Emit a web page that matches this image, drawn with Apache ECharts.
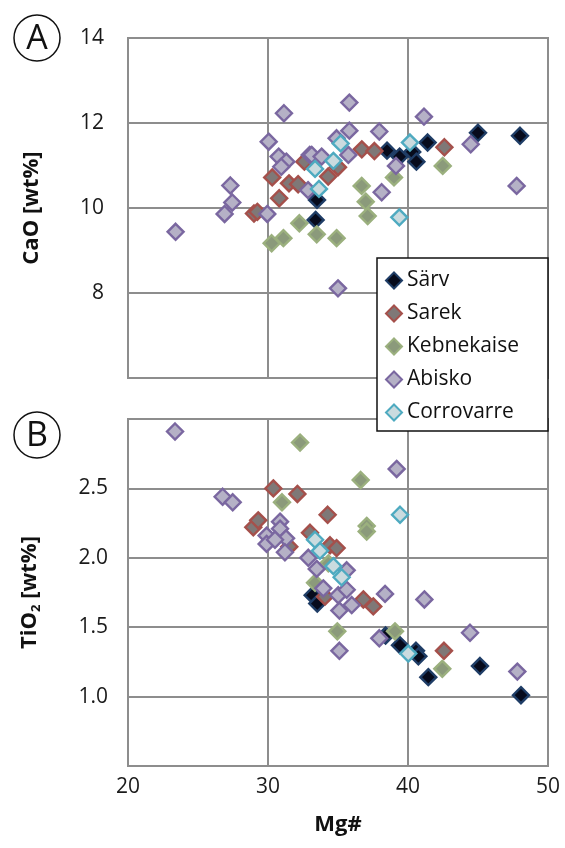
<!DOCTYPE html>
<html>
<head>
<meta charset="utf-8">
<script src="https://cdn.jsdelivr.net/npm/echarts@6/dist/echarts.min.js"></script>
<style>
  html, body { margin: 0; padding: 0; background: #fff; }
  #chart { width: 565px; height: 848px; }
</style>
</head>
<body>
<div id="chart"></div>
<script>
// Mg# versus CaO (panel A) and TiO2 (panel B), one array of [Mg#, wt%] pairs per locality
const groups = ['Särv', 'Sarek', 'Kebnekaise', 'Abisko', 'Corrovarre'];

const sarvCaO = [[33.4, 9.72], [33.5, 10.19], [38.5, 11.35], [39.4, 11.21], [40.3, 11.32],
  [40.6, 11.09], [41.4, 11.54], [45.0, 11.77], [48.0, 11.70]];
const sarekCaO = [[29.0, 9.87], [29.24, 9.91], [30.3, 10.72], [30.8, 10.23], [31.5, 10.58],
  [32.15, 10.56], [32.6, 11.09], [34.3, 10.74], [35.0, 10.96], [36.7, 11.38], [37.6, 11.34], [42.6, 11.43]];
const kebnekaiseCaO = [[30.26, 9.17], [31.1, 9.29], [32.24, 9.64], [33.48, 9.38], [34.9, 9.29],
  [36.69, 10.52], [36.98, 10.15], [37.12, 9.81], [39.0, 10.72], [42.48, 10.99]];
const abiskoCaO = [[31.14, 12.23], [30.05, 11.56], [30.76, 11.21], [31.31, 11.09], [30.95, 10.97],
  [32.98, 11.25], [32.86, 10.42], [27.31, 10.53], [27.45, 10.13], [26.9, 9.86], [29.95, 9.86],
  [23.4, 9.44], [35.0, 8.11], [38.12, 10.37], [35.81, 12.48], [41.14, 12.15], [47.76, 10.52],
  [44.48, 11.5], [39.14, 10.99], [37.95, 11.8], [35.81, 11.82], [34.9, 11.64], [35.74, 11.25],
  [33.12, 11.25], [33.83, 11.21]];
const corrovarreCaO = [[40.14, 11.54], [35.19, 11.52], [34.67, 11.11], [33.36, 10.92], [33.64, 10.45], [39.38, 9.78]];

const sarvTiO2 = [[33.19, 1.73], [33.52, 1.67], [38.4, 1.44], [39.43, 1.37], [40.57, 1.33],
  [40.74, 1.29], [41.45, 1.14], [45.14, 1.22], [48.07, 1.01]];
const sarekTiO2 = [[30.38, 2.50], [32.1, 2.46], [28.95, 2.22], [29.3, 2.27], [34.26, 2.31],
  [31.52, 2.08], [33.0, 2.18], [34.43, 2.09], [34.9, 2.07], [34.07, 1.72], [36.81, 1.70],
  [37.52, 1.65], [42.57, 1.33]];
const kebnekaiseTiO2 = [[32.29, 2.83], [36.62, 2.56], [37.05, 2.23], [37.05, 2.19], [31.0, 2.40],
  [34.31, 1.96], [33.36, 1.82], [34.95, 1.47], [39.07, 1.47], [42.45, 1.20]];
const abiskoTiO2 = [[23.36, 2.91], [26.76, 2.44], [27.48, 2.40], [29.9, 2.16], [29.9, 2.10],
  [30.86, 2.26], [30.86, 2.21], [31.29, 2.14], [31.21, 2.04], [30.5, 2.13], [32.88, 2.00],
  [33.48, 1.92], [35.62, 1.91], [33.95, 1.78], [35.02, 1.73], [35.62, 1.77], [35.98, 1.66],
  [35.1, 1.62], [35.1, 1.33], [38.36, 1.74], [41.17, 1.70], [37.95, 1.42], [39.19, 2.64],
  [44.43, 1.46], [47.81, 1.18]];
const corrovarreTiO2 = [[39.43, 2.31], [33.36, 2.13], [33.71, 2.05], [34.67, 1.94], [35.26, 1.86], [40.02, 1.31]];

const caoSets = [sarvCaO, sarekCaO, kebnekaiseCaO, abiskoCaO, corrovarreCaO];
const tio2Sets = [sarvTiO2, sarekTiO2, kebnekaiseTiO2, abiskoTiO2, corrovarreTiO2];

const mgTicks = { min: 20, max: 50, interval: 10 };
const caoTicks = { min: 6, max: 14, interval: 2 };
const tio2Ticks = { min: 0.5, max: 3.0, interval: 0.5 };

// marker fill / outline for each locality
const markerStyles = [
  { color: '#070b1c', borderColor: '#1f3d66' },
  { color: '#7f7877', borderColor: '#a5504b' },
  { color: '#8b9a7b', borderColor: '#9bb07e' },
  { color: '#b5b1c6', borderColor: '#7a67a0' },
  { color: '#cadbdf', borderColor: '#4eaac0' }
];

const FONT = '"Open Sans", "DejaVu Sans", sans-serif';
const GRID_COLOR = '#8d8d8d';

const chart = echarts.init(document.getElementById('chart'), null, { renderer: 'canvas' });

function xAxisFor(gridIndex, showLabels) {
  return {
    type: 'value', gridIndex, min: mgTicks.min, max: mgTicks.max, interval: mgTicks.interval,
    axisLine: { show: false }, axisTick: { show: false },
    splitLine: { show: true, lineStyle: { color: GRID_COLOR, width: 2 } },
    axisLabel: { show: showLabels, fontFamily: FONT, fontSize: 21, color: '#1a1a1a', margin: 11 },
    name: showLabels ? 'Mg#' : '', nameLocation: 'middle', nameGap: 48,
    nameTextStyle: { fontFamily: FONT, fontSize: 22, fontWeight: 'bold', color: '#111' }
  };
}

const series = [];
groups.forEach((g, i) => {
  const base = {
    name: g, type: 'scatter', symbol: 'diamond', symbolSize: 16,
    itemStyle: { color: markerStyles[i].color, borderColor: markerStyles[i].borderColor, borderWidth: 2.4, opacity: 1 },
    emphasis: { disabled: true }, z: 2 + i
  };
  series.push(Object.assign({}, base, { xAxisIndex: 0, yAxisIndex: 0, data: caoSets[i] }));
  series.push(Object.assign({}, base, { xAxisIndex: 1, yAxisIndex: 1, data: tio2Sets[i] }));
});

const option = {
  animation: false,
  backgroundColor: '#fff',
  grid: [
    { left: 128, right: 17, top: 38, height: 340, show: true, borderColor: GRID_COLOR, borderWidth: 2, backgroundColor: 'transparent' },
    { left: 128, right: 17, top: 419, height: 347, show: true, borderColor: GRID_COLOR, borderWidth: 2, backgroundColor: 'transparent' }
  ],
  xAxis: [xAxisFor(0, false), xAxisFor(1, true)],
  yAxis: [
    {
      type: 'value', gridIndex: 0, min: caoTicks.min, max: caoTicks.max, interval: caoTicks.interval,
      axisLine: { show: false }, axisTick: { show: false },
      splitLine: { show: true, lineStyle: { color: GRID_COLOR, width: 2 } },
      axisLabel: { showMinLabel: false, fontFamily: FONT, fontSize: 21, color: '#1a1a1a', margin: 24 },
      name: 'CaO [wt%]', nameLocation: 'middle', nameGap: 85, nameRotate: 90,
      nameTextStyle: { fontFamily: FONT, fontSize: 22, fontWeight: 'bold', color: '#111' }
    },
    {
      type: 'value', gridIndex: 1, min: tio2Ticks.min, max: tio2Ticks.max, interval: tio2Ticks.interval,
      axisLine: { show: false }, axisTick: { show: false },
      splitLine: { show: true, lineStyle: { color: GRID_COLOR, width: 2 } },
      axisLabel: {
        showMinLabel: false, showMaxLabel: false, fontFamily: FONT, fontSize: 21, color: '#1a1a1a', margin: 20,
        formatter: v => v.toFixed(1)
      },
      name: '{a|TiO}{s|2}{a| [wt%]}', nameLocation: 'middle', nameGap: 85, nameRotate: 90,
      nameTextStyle: {
        fontFamily: FONT, fontSize: 22, fontWeight: 'bold', color: '#111',
        rich: {
          a: { fontFamily: FONT, fontSize: 22, fontWeight: 'bold', color: '#111', lineHeight: 27, verticalAlign: 'middle' },
          s: { fontFamily: FONT, fontSize: 13, fontWeight: 'bold', color: '#111', lineHeight: 13, verticalAlign: 'bottom' }
        }
      }
    }
  ],
  legend: {
    data: groups.map(g => ({ name: g, icon: 'diamond' })),
    orient: 'vertical', left: 377, top: 258,
    itemWidth: 16, itemHeight: 16, itemGap: 12, itemTextGap: 7,
    padding: [12, 29, 8, 8],
    backgroundColor: '#fff', borderColor: '#111', borderWidth: 1.5, borderRadius: 0,
    textStyle: { fontFamily: FONT, fontSize: 21, color: '#111' },
    selectedMode: false, z: 20
  },
  graphic: [
    { type: 'circle', shape: { cx: 37, cy: 38, r: 23 }, style: { fill: '#fff', stroke: '#111', lineWidth: 1.5 }, z: 10 },
    { type: 'text', x: 37, y: 39, style: { text: 'A', fontFamily: FONT, fontSize: 34, fill: '#111', align: 'center', verticalAlign: 'middle' }, z: 11 },
    { type: 'circle', shape: { cx: 37, cy: 435, r: 23 }, style: { fill: '#fff', stroke: '#111', lineWidth: 1.5 }, z: 10 },
    { type: 'text', x: 37, y: 436, style: { text: 'B', fontFamily: FONT, fontSize: 34, fill: '#111', align: 'center', verticalAlign: 'middle' }, z: 11 }
  ],
  series
};

chart.setOption(option);
</script>
</body>
</html>
